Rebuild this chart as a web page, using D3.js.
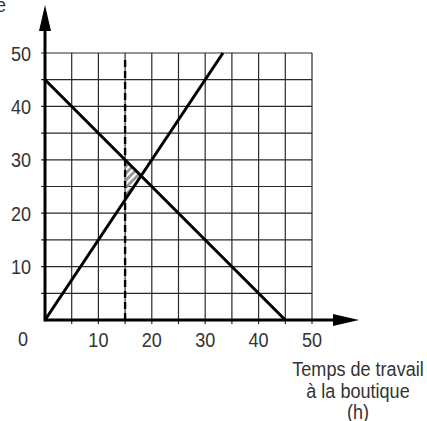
<!DOCTYPE html>
<html>
<head>
<meta charset="utf-8">
<script src="https://cdn.jsdelivr.net/npm/d3@7"></script>
<style>
  html, body { margin: 0; padding: 0; background: #fff; }
  svg { display: block; }
  text { font-family: "Liberation Sans", Arial, sans-serif; fill: #333; }
</style>
</head>
<body>
<svg id="chart" width="427" height="421"></svg>
<script>
// Axis ticks and labels
const xTickLabels = [10, 20, 30, 40, 50];
const yTickLabels = [10, 20, 30, 40, 50];
const gridSteps = [0, 5, 10, 15, 20, 25, 30, 35, 40, 45, 50];

// Constraint lines (hours): rising y = 1.5x, falling x + y = 45
const risingLine = [[0, 0], [33.33, 50]];
const fallingLine = [[0, 45], [45, 0]];
// Vertical limit at x = 15
const limitX = 15;
// Feasible region between the three constraints
const feasibleRegion = [[15, 22.5], [15, 30], [18, 27]];

const xTitle = ["Temps de travail", "à la boutique", "(h)"];
const yTitle = ["Temps de travail", "à la librairie"];

// Condensed look: horizontal squeeze of the regular face
const SQUEEZE = 0.86;
const FS = 21;

const svg = d3.select("#chart");
const x = d3.scaleLinear().domain([0, 50]).range([45, 312]);
const y = d3.scaleLinear().domain([0, 50]).range([320, 53]);

function label(sel, px, py, anchor) {
  return sel
    .attr("transform", (d, i) => `translate(${px(d, i)},${py(d, i)}) scale(${SQUEEZE},1)`)
    .attr("text-anchor", anchor)
    .attr("font-size", FS);
}

// Grid
const grid = svg.append("g").attr("stroke", "#2a2a2a").attr("stroke-width", 1.2);
grid.selectAll("line.v").data(gridSteps.slice(1)).join("line")
  .attr("x1", d => x(d)).attr("x2", d => x(d))
  .attr("y1", y(0) + 4).attr("y2", y(50));
grid.selectAll("line.h").data(gridSteps.slice(1)).join("line")
  .attr("y1", d => y(d)).attr("y2", d => y(d))
  .attr("x1", x(0) - 4).attr("x2", x(50));

// Hatched feasible region
const defs = svg.append("defs");
const pat = defs.append("pattern").attr("id", "hatch")
  .attr("patternUnits", "userSpaceOnUse").attr("width", 5).attr("height", 5)
  .attr("patternTransform", "rotate(45)");
pat.append("line").attr("x1", 1.5).attr("y1", 0).attr("x2", 1.5).attr("y2", 5)
  .attr("stroke", "#8c8c8c").attr("stroke-width", 2.6);
svg.append("path")
  .attr("d", d3.line().x(d => x(d[0])).y(d => y(d[1]))(feasibleRegion) + "Z")
  .attr("fill", "url(#hatch)");

// Dashed limit
svg.append("line")
  .attr("x1", x(limitX)).attr("x2", x(limitX))
  .attr("y1", y(0)).attr("y2", y(50) + 3)
  .attr("stroke", "#000").attr("stroke-width", 2.4)
  .attr("stroke-dasharray", "7,4");

// Constraint lines
const line = d3.line().x(d => x(d[0])).y(d => y(d[1]));
[risingLine, fallingLine].forEach(pts => {
  svg.append("path").attr("d", line(pts))
    .attr("fill", "none").attr("stroke", "#000").attr("stroke-width", 3);
});

// Axes with arrows
svg.append("line").attr("x1", x(0)).attr("x2", 334).attr("y1", y(0)).attr("y2", y(0))
  .attr("stroke", "#000").attr("stroke-width", 3);
svg.append("path").attr("d", `M333,${y(0) - 6}L359,${y(0)}L333,${y(0) + 6}Z`).attr("fill", "#000");
svg.append("line").attr("x1", x(0)).attr("x2", x(0)).attr("y1", y(0) + 1.5).attr("y2", 30)
  .attr("stroke", "#000").attr("stroke-width", 3);
svg.append("path").attr("d", `M${x(0) - 6},31L${x(0)},5L${x(0) + 6},31Z`).attr("fill", "#000");

// Tick labels
label(svg.selectAll("text.xt").data(xTickLabels).join("text"), d => x(d), () => 347, "middle")
  .text(d => d);
label(svg.selectAll("text.yt").data(yTickLabels).join("text"), () => 31, d => y(d) + 7.5, "end")
  .text(d => d);
label(svg.append("text").datum(0), () => 28, () => 346, "end").text("0");

// Axis titles
label(svg.selectAll("text.xtitle").data(xTitle).join("text"),
      () => 358, (d, i) => 376 + i * 21.5, "middle")
  .attr("fill", "#222").text(d => d);
label(svg.selectAll("text.ytitle").data(yTitle).join("text"),
      () => 6, (d, i) => 12 - (yTitle.length - 1 - i) * 21.5, "end")
  .attr("fill", "#222").text(d => d);
</script>
</body>
</html>
